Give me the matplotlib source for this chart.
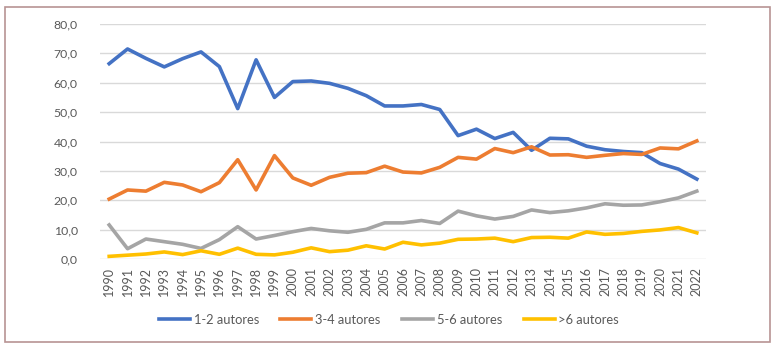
import matplotlib
matplotlib.use("Agg")
import matplotlib.pyplot as plt
from matplotlib.patches import Rectangle

years = list(range(1990, 2023))
s12 = [66.5, 71.5, 68.3, 65.4, 68.2, 70.5, 65.5, 51.2, 67.8, 55.0, 60.4, 60.6, 59.8, 58.1, 55.6,
       52.1, 52.1, 52.6, 50.9, 42.0, 44.2, 41.0, 43.1, 37.0, 41.1, 40.9, 38.4, 37.2, 36.6, 36.2,
       32.5, 30.6, 27.2]
s34 = [20.4, 23.5, 23.1, 26.1, 25.2, 22.9, 26.0, 33.8, 23.5, 35.2, 27.6, 25.1, 27.8, 29.2, 29.4,
       31.6, 29.6, 29.3, 31.2, 34.6, 34.0, 37.6, 36.2, 38.2, 35.4, 35.5, 34.6, 35.3, 35.9, 35.6,
       37.8, 37.5, 40.2]
s56 = [11.6, 3.5, 6.8, 5.9, 5.0, 3.6, 6.6, 11.0, 6.8, 8.0, 9.3, 10.4, 9.6, 9.1, 10.1,
       12.3, 12.3, 13.1, 12.1, 16.3, 14.7, 13.6, 14.5, 16.7, 15.8, 16.4, 17.4, 18.8, 18.3, 18.4,
       19.5, 20.8, 23.1]
s6p = [0.9, 1.3, 1.7, 2.4, 1.5, 2.8, 1.6, 3.7, 1.6, 1.4, 2.3, 3.8, 2.5, 3.0, 4.5,
       3.4, 5.7, 4.8, 5.4, 6.7, 6.8, 7.1, 5.9, 7.3, 7.4, 7.1, 9.2, 8.4, 8.7, 9.4,
       9.9, 10.7, 8.9]
labels = ["1-2 autores", "3-4 autores", "5-6 autores", ">6 autores"]
colors = ["#4472C4", "#ED7D31", "#A5A5A5", "#FFC000"]
yticks = [0, 10, 20, 30, 40, 50, 60, 70, 80]

plt.rcParams['font.family'] = ['Lato', 'DejaVu Sans']

fig = plt.figure(figsize=(7.78, 3.52), dpi=100)
fig.patches.append(Rectangle((5/778, 1-342/352), 765/778, 335/352, transform=fig.transFigure,
                             fill=False, edgecolor="#b89494", linewidth=1.2))
ax = fig.add_axes([100/778, 1-259/352, 606/778, 235/352])

for data, lab, c in zip([s12, s34, s56, s6p], labels, colors):
    ax.plot(years, data, color=c, linewidth=2.6, label=lab, solid_joinstyle='round')

ax.set_xlim(1989.5, 2022.5)
ax.set_ylim(0, 80)
ax.set_yticks(yticks)
ax.set_yticklabels([f"{v:.1f}".replace(".", ",") for v in yticks])
ax.set_xticks(years)
ax.set_xticklabels([str(y) for y in years], rotation=90)
ax.grid(axis='y', color="#d9d9d9", linewidth=1)
ax.set_axisbelow(True)
for sp in ax.spines.values():
    sp.set_visible(False)
ax.tick_params(axis='both', length=0, labelcolor="#595959")
ax.tick_params(axis='y', pad=16, labelsize=8.8)
ax.tick_params(axis='x', pad=6, labelsize=9)

fig.legend(loc='center', bbox_to_anchor=(389/778, 1-320/352), ncol=4, frameon=False,
           fontsize=9.3, labelcolor="#595959", handlelength=2.4, handletextpad=0.3,
           columnspacing=1.65)

fig.savefig("out.png", dpi=100)
